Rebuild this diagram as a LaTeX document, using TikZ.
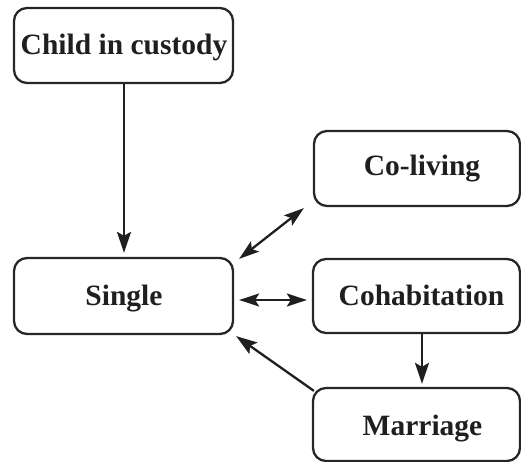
\documentclass[tikz,border=0pt]{standalone}
\usepackage{fontspec}
\setmainfont{Liberation Serif}
\usetikzlibrary{arrows.meta,calc}
\tikzset{
  box/.style={draw=black!85, line width=2.3pt, rounded corners=13pt, inner sep=0pt},
  lbl/.style={anchor=base, inner sep=0pt, font=\fontsize{29.5}{30}\selectfont\bfseries, text=black!88},
  conn/.style={draw=black!88, line width=2.3pt, -{Stealth[length=21pt,width=14pt,inset=4pt]}},
  dconn/.style={draw=black!88, line width=2.3pt, {Stealth[length=20pt,width=13pt,inset=4pt]}-{Stealth[length=20pt,width=13pt,inset=4pt]}}
}
\begin{document}
\begin{tikzpicture}[x=1pt,y=-1pt]
\useasboundingbox (0,0) rectangle (521,462);
\node[box, minimum width=219pt, minimum height=75pt] (child) at (123.5,45.5) {};
\node[box, minimum width=219pt, minimum height=76pt] (single) at (123.5,296) {};
\node[box, minimum width=206pt, minimum height=75pt] (coliving) at (417,168.5) {};
\node[box, minimum width=207pt, minimum height=74pt] (cohab) at (416.5,296) {};
\node[box, minimum width=207pt, minimum height=73pt] (marriage) at (416.5,424.5) {};
\node[lbl] (tchild) at (124,55) {Child in custody};
\node[lbl] (tsingle) at (124,305) {Single};
\node[lbl] (tcoliving) at (422,176) {Co-living};
\node[lbl] (tcohab) at (421.5,305) {Cohabitation};
\node[lbl] (tmarriage) at (422.5,435) {Marriage};
\draw[conn, shorten >=4pt] ($(child.south)+(0.5,0)$) -- ($(single.north)+(0.5,0)$);
\draw[dconn] ($(single.north east)+(5,2)$) -- ($(coliving.south west)+(-9,1)$);
\draw[dconn] ($(single.east)+(5,4)$) -- ($(cohab.west)+(-5,4)$);
\draw[conn, shorten >=3pt] ($(cohab.south)+(5.5,0)$) -- ($(marriage.north)+(5.5,0)$);
\draw[conn] ($(marriage.north west)+(2,4)$) -- ($(single.south east)+(2,1)$);
\end{tikzpicture}
\end{document}
